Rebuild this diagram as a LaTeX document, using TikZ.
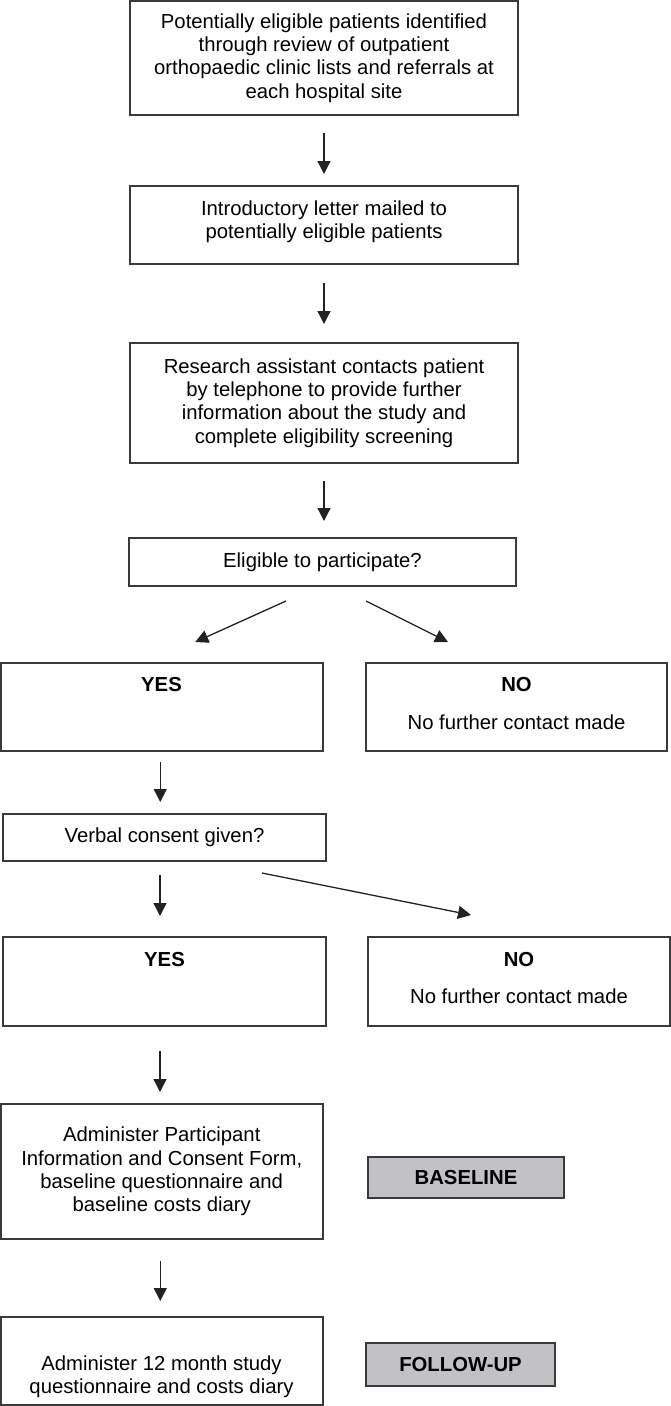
\documentclass[tikz,border=0pt]{standalone}
\usepackage{fontspec}
\setmainfont{Liberation Sans}
\usetikzlibrary{arrows.meta,calc}
\definecolor{boxc}{HTML}{3A3A3A}
\definecolor{tagc}{HTML}{C2C2C6}
\definecolor{arrc}{HTML}{222222}
\begin{document}
\begin{tikzpicture}[x=1pt,y=-1pt,
  every node/.style={font=\fontsize{20.3}{23.3}\selectfont, inner sep=0pt, outer sep=0pt},
  box/.style={draw=boxc, line width=1.5pt, fill=white, align=center},
  tag/.style={draw=boxc, fill=tagc, line width=1.5pt, font=\fontsize{20.3}{23.3}\selectfont\bfseries},
  arr/.style={draw=arrc, line width=1.3pt, -{Triangle[length=13pt,width=13pt]}},
  lbl/.style={align=center}]
\useasboundingbox (0,0) rectangle (671,1406);

% main column
\node[box, minimum width=388, minimum height=114] (b1) at (324,58)
  {Potentially eligible patients identified\\through review of outpatient\\orthopaedic clinic lists and referrals at\\each hospital site};
\node[box, minimum width=388, minimum height=78] (b2) at (324,225) {};
\node[lbl] (b2t) at (324,221.5) {Introductory letter mailed to\\potentially eligible patients};
\node[box, minimum width=388, minimum height=120] (b3) at (324,403)
  {Research assistant contacts patient\\by telephone to provide further\\information about the study and\\complete eligibility screening};
\node[box, minimum width=387, minimum height=48] (b4) at (322.5,562) {Eligible to participate?};

% first decision
\node[box, minimum width=322, minimum height=88] (yes1) at (161.75,707) {};
\node (yes1t) at (161.5,685) {\bfseries YES};
\node[box, minimum width=301, minimum height=88] (no1) at (516.5,707) {};
\node (no1t) at (516.5,685) {\bfseries NO};
\node (no1s) at (516.5,722) {No further contact made};

\node[box, minimum width=323, minimum height=47] (verbal) at (164.5,837.5) {Verbal consent given?};

% second decision
\node[box, minimum width=323, minimum height=89] (yes2) at (164.5,981.5) {};
\node (yes2t) at (164.5,959) {\bfseries YES};
\node[box, minimum width=302, minimum height=89] (no2) at (519,981.5) {};
\node (no2t) at (519,959) {\bfseries NO};
\node (no2s) at (519,996) {No further contact made};

% administration
\node[box, minimum width=322, minimum height=135] (admin) at (161.75,1171.5)
  {Administer Participant\\Information and Consent Form,\\baseline questionnaire and\\baseline costs diary};
\node[tag, minimum width=196, minimum height=41] (base) at (466,1177.5) {BASELINE};
\node[box, minimum width=322, minimum height=88] (follow) at (161.75,1361) {};
\node[lbl] (followt) at (161.5,1377) {Administer 12 month study\\questionnaire and costs diary};
\node[tag, minimum width=189, minimum height=43] (fup) at (460.5,1364.5) {FOLLOW-UP};

% connectors
\draw[arr] ($(b1.south)+(0,18)$) -- ($(b2.north)+(0,-12)$);
\draw[arr] ($(b2.south)+(0,19)$) -- ($(b3.north)+(0,-19)$);
\draw[arr] ($(b3.south)+(0,18)$) -- ($(b3.south |- b4.north)+(0,-17)$);
\draw[arr] ($(b4.south)+(-36.5,15)$) -- ($(yes1.north)+(33.5,-21)$);
\draw[arr] ($(b4.south)+(43.5,15)$) -- ($(no1.north)+(-68.5,-21)$);
\draw[arr] ($(yes1.south)+(-1.5,11)$) -- ($(yes1.south |- verbal.north)+(-1.5,-12)$);
\draw[arr] ($(verbal.south)+(-4.5,14)$) -- ($(verbal.south |- yes2.north)+(-4.5,-21)$);
\draw[arr] ($(verbal.south)+(97.5,12)$) -- ($(no2.north)+(-48,-22)$);
\draw[arr] ($(yes2.south)+(-4.5,25)$) -- ($(yes2.south |- admin.north)+(-4.5,-12)$);
\draw[arr] ($(admin.south)+(-1.5,22)$) -- ($(admin.south |- follow.north)+(-1.5,-16)$);
\end{tikzpicture}
\end{document}
